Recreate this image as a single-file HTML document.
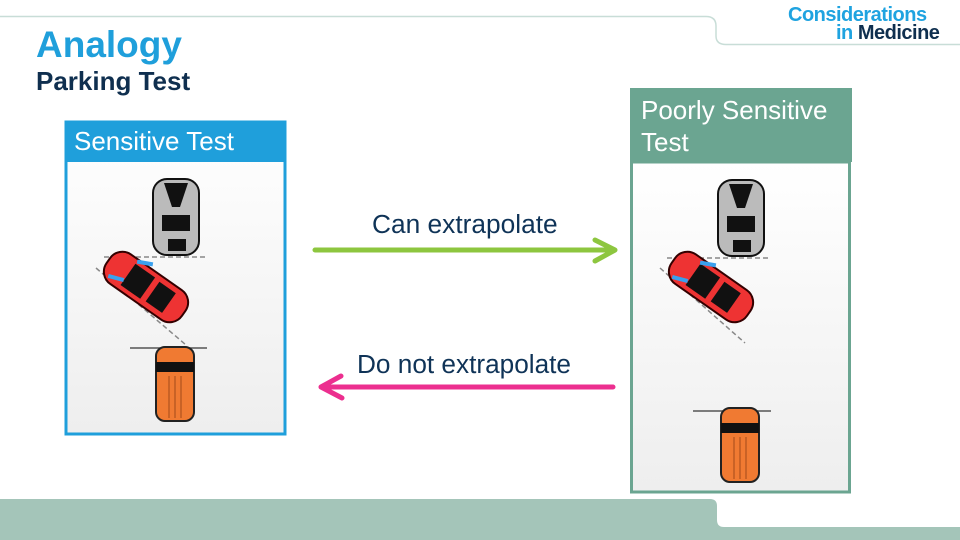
<!DOCTYPE html>
<html><head><meta charset="utf-8"><style>
body{margin:0;width:960px;height:540px;overflow:hidden;background:#fff;font-family:"Liberation Sans",sans-serif;position:relative}
.a{position:absolute}
</style></head><body>
<svg class="a" style="left:0;top:0" width="960" height="540">
<path d="M0 16.5 H706 Q716 16.5 716 26 V36 Q716 44.5 726 44.5 H960" fill="none" stroke="#c8ddd7" stroke-width="1.5"/>
<path d="M0 499 H710 Q717 499 717 506 V520 Q717 527 724 527 H960 V540 H0 Z" fill="#a4c5b9"/>
<defs>
<linearGradient id="g" x1="0" y1="0" x2="0" y2="1"><stop offset="0" stop-color="#fff"/><stop offset="1" stop-color="#eeeeee"/></linearGradient>
<g id="gray">
<rect x="-23" y="-38" width="46" height="76" rx="14" fill="#bbb" stroke="#111" stroke-width="2"/>
<path d="M-12 -34 L-4 -10 L4 -10 L12 -34 Z M-14 -2 H14 V14 H-14 Z M-8 22 H10 V34 H-8Z" fill="#111"/>
</g>
<g id="red">
<rect x="-46" y="-18" width="92" height="36" rx="15" fill="#e33" stroke="#300" stroke-width="2"/>
<rect x="-22" y="-13" width="24" height="26" fill="#111"/><rect x="8" y="-12" width="20" height="24" fill="#111"/>
</g>
<g id="orange">
<rect x="-19" y="-37" width="38" height="74" rx="9" fill="#f07a32" stroke="#222" stroke-width="2"/>
<rect x="-19" y="-22" width="38" height="10" fill="#111"/>
<path d="M-6 -8 V34 M0 -8 V34 M6 -8 V34" stroke="#a24a1a"/>
</g>
</defs>
<!-- left box -->
<rect x="66" y="122" width="219" height="312" fill="url(#g)" stroke="#1f9fdb" stroke-width="3"/>
<rect x="65" y="121" width="221" height="41" fill="#1f9fdb"/>
<use href="#gray" x="176" y="217"/>
<line x1="104" y1="257" x2="207" y2="257" stroke="#888" stroke-dasharray="5 3" stroke-width="1.5"/>
<line x1="96" y1="268" x2="186" y2="345" stroke="#888" stroke-dasharray="5 3" stroke-width="1.5"/>
<use href="#red" transform="translate(146 287) rotate(35)"/>
<rect x="137" y="261" width="16" height="4" fill="#3aa0ee" transform="rotate(10 145 263)"/>
<rect x="108" y="276" width="16" height="4" fill="#3aa0ee" transform="rotate(15 116 278)"/>
<line x1="130" y1="348" x2="207" y2="348" stroke="#555" stroke-width="1.5"/>
<use href="#orange" x="175" y="384"/>
<!-- right box -->
<rect x="631.5" y="162" width="218" height="330" fill="url(#g)" stroke="#6ba591" stroke-width="3"/>
<rect x="630" y="88" width="222" height="74" fill="#6ba591"/>
<use href="#gray" x="741" y="218"/>
<line x1="667" y1="258" x2="769" y2="258" stroke="#888" stroke-dasharray="5 3" stroke-width="1.5"/>
<line x1="660" y1="268" x2="745" y2="343" stroke="#888" stroke-dasharray="5 3" stroke-width="1.5"/>
<use href="#red" transform="translate(711 287) rotate(35)"/>
<rect x="700" y="262" width="16" height="4" fill="#3aa0ee" transform="rotate(10 708 264)"/>
<rect x="672" y="277" width="16" height="4" fill="#3aa0ee" transform="rotate(15 680 279)"/>
<line x1="693" y1="411" x2="771" y2="411" stroke="#555" stroke-width="1.5"/>
<use href="#orange" x="740" y="445"/>
<!-- arrows -->
<g fill="none" stroke-width="5" stroke-linecap="round" stroke-linejoin="round">
<path d="M315 250 H615 M595 240 L615 250 L595 261" stroke="#8dc63f"/>
<path d="M613 387 H321 M341 376 L321 387 L342 398" stroke="#ec2f8f"/>
</g>
</svg>
<div class="a" style="left:36px;top:24px;font-size:37px;font-weight:bold;color:#1f9fdb">Analogy</div>
<div class="a" style="left:36px;top:66px;font-size:26px;font-weight:bold;color:#0f2f4f">Parking Test</div>
<div class="a" style="left:788px;top:6px;font-size:20px;font-weight:bold;color:#1fa3e0;letter-spacing:-0.5px;line-height:19px">Considerations</div>
<div class="a" style="left:836px;top:24px;font-size:20px;font-weight:bold;color:#0f2f4f;letter-spacing:-0.5px;line-height:19px"><span style="color:#1fa3e0">in</span> Medicine</div>
<div class="a" style="left:74px;top:126px;font-size:26px;color:#fff">Sensitive Test</div>
<div class="a" style="left:641px;top:94px;font-size:26px;color:#fff;line-height:32px">Poorly Sensitive<br>Test</div>
<div class="a" style="left:372px;top:209px;font-size:26.3px;color:#0f3357">Can extrapolate</div>
<div class="a" style="left:357px;top:349px;font-size:26.2px;color:#0f3357">Do not extrapolate</div>
</body></html>
